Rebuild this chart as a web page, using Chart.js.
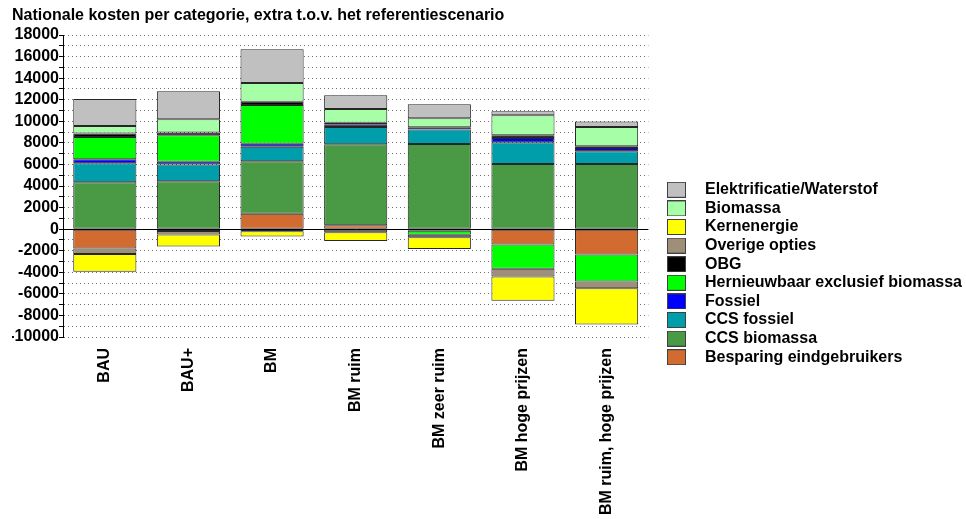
<!DOCTYPE html>
<html><head><meta charset="utf-8">
<script src="https://cdn.jsdelivr.net/npm/chart.js@4.4.0/dist/chart.umd.min.js"></script>
<style>html,body{margin:0;padding:0;background:#fff;overflow:hidden}#wrap{width:966px;height:519px;position:relative}</style>
</head><body><div id="wrap"><canvas id="c" width="966" height="519"></canvas></div>
<script>
const categories = ['BAU', 'BAU+', 'BM', 'BM ruim', 'BM zeer ruim', 'BM hoge prijzen', 'BM ruim, hoge prijzen'];
const besparing      = [-1790, -180, 1420,  370, -150, -1420, -2350];
const ccsBiomassa    = [ 4350, 4440, 4880, 7500, 7900,  6050,  6050];
const ccsFossiel     = [ 1760, 1550, 1330, 1600, 1350,  2000,  1170];
const fossiel        = [  370,  250,  280,  200,  200,   400,   310];
const hernieuwbaar   = [ 2070, 2470, 3610,    0, -370, -2250, -2500];
const obg            = [  310,  250,  280,  190,    0,   250,   155];
const overige        = [ -525, -320, -200, -280, -240,  -710,  -620];
const kernenergie    = [-1636,-1100, -480, -810,-1090, -2250, -3360];
const biomassa       = [  710, 1235, 1760, 1270,  830,  1850,  1790];
const elektrificatie = [ 2500, 2590, 3120, 1290, 1290,   370,   500];
const seriesNames = ['Besparing eindgebruikers', 'CCS biomassa', 'CCS fossiel', 'Fossiel', 'Hernieuwbaar exclusief biomassa', 'OBG', 'Overige opties', 'Kernenergie', 'Biomassa', 'Elektrificatie/Waterstof'];
const seriesData = [besparing, ccsBiomassa, ccsFossiel, fossiel, hernieuwbaar, obg, overige, kernenergie, biomassa, elektrificatie];
const yTickLabels = [-10000, -8000, -6000, -4000, -2000, 0, 2000, 4000, 6000, 8000, 10000, 12000, 14000, 16000, 18000];
const titleText = 'Nationale kosten per categorie, extra t.o.v. het referentiescenario';

const colors = ['#d26b30', '#4a9a45', '#009eaa', '#0000ff', '#00ff00', '#000000', '#a08f78', '#ffff00', '#a6ffa6', '#c0c0c0'];
const FONT = "'Liberation Sans', Arial, sans-serif";
Chart.defaults.font.family = FONT;
Chart.defaults.color = '#000';

function swatch(color) {
  const c = document.createElement('canvas');
  c.width = 30; c.height = 16;
  const g = c.getContext('2d');
  g.fillStyle = color; g.fillRect(0, 0, 19, 16);
  g.strokeStyle = '#404040'; g.lineWidth = 1; g.strokeRect(0.5, 0.5, 18, 15);
  return c;
}
const swatches = colors.map(swatch);

const legendNudge = {
  id: 'legendNudge',
  afterLayout(chart) {
    const l = chart.legend;
    if (l) { l.top += 14; l.bottom += 14; }
  }
};

const boldFont = { family: FONT, size: 16, weight: 'bold' };

new Chart(document.getElementById('c'), {
  type: 'bar',
  data: {
    labels: categories,
    datasets: seriesNames.map((n, i) => ({
      label: n,
      data: seriesData[i],
      backgroundColor: colors[i],
      borderColor: '#262626',
      borderWidth: 1,
      borderSkipped: false,
      barPercentage: 0.755,
      categoryPercentage: 1
    }))
  },
  options: {
    responsive: false,
    animation: false,
    layout: { padding: { left: 12, top: 0, right: 0, bottom: 0 } },
    plugins: {
      tooltip: { enabled: false },
      title: {
        display: true, text: titleText, align: 'start', color: '#000',
        font: boldFont, padding: { top: 5.5, bottom: 10.3 }
      },
      legend: {
        position: 'right', align: 'center', reverse: true, maxWidth: 301.6,
        labels: {
          usePointStyle: true, pointStyleWidth: 30, boxWidth: 30, boxHeight: 16,
          padding: 2.6, color: '#000', font: boldFont,
          generateLabels(chart) {
            const items = Chart.defaults.plugins.legend.labels.generateLabels(chart);
            items.forEach(it => { it.pointStyle = swatches[it.datasetIndex]; });
            return items;
          }
        }
      }
    },
    scales: {
      x: {
        stacked: true,
        afterFit: s => { s.height = 182; },
        grid: { display: false, drawTicks: false },
        border: { display: false },
        ticks: { autoSkip: false, minRotation: 90, maxRotation: 90, padding: 11, color: '#000', font: boldFont }
      },
      y: {
        stacked: true, min: -10000, max: 18000,
        afterFit: s => { s.width = 51; },
        ticks: {
          stepSize: 1000, autoSkip: false, padding: 0, color: '#000', font: boldFont,
          callback: v => yTickLabels.includes(v) ? String(v) : ''
        },
        grid: {
          color: c => (c.tick && c.tick.value === 0) ? '#000' : '#707070',
          tickColor: '#000', tickLength: 4, lineWidth: 1
        },
        border: {
          display: true, color: '#000', width: 1,
          dash: c => (c.tick && c.tick.value === 0) ? [] : [1, 3]
        }
      },
      gap: {
        type: 'linear', position: 'right', display: true,
        afterFit: s => { s.width = 16; },
        grid: { display: false, drawTicks: false },
        border: { display: false },
        ticks: { display: false }
      }
    }
  },
  plugins: [legendNudge]
});
</script></body></html>
